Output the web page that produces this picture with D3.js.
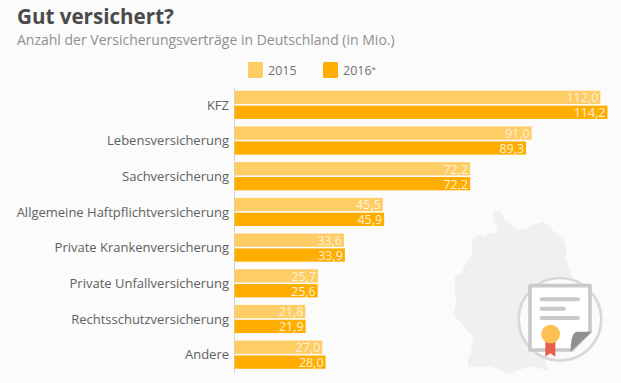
<!DOCTYPE html>
<html>
<head>
<meta charset="utf-8">
<script src="https://cdn.jsdelivr.net/npm/d3@7"></script>
<style>
  html, body { margin: 0; padding: 0; background: #fbfbfb; }
  svg { display: block; font-family: "Open Sans", sans-serif; }
</style>
</head>
<body>
<svg id="chart"></svg>
<script>
var categories = ["KFZ", "Lebensversicherung", "Sachversicherung", "Allgemeine Haftpflichtversicherung",
  "Private Krankenversicherung", "Private Unfallversicherung", "Rechtsschutzversicherung", "Andere"];
var values2015 = [112.0, 91.0, 72.2, 45.5, 33.6, 25.7, 21.8, 27.0];
var values2016 = [114.2, 89.3, 72.2, 45.9, 33.9, 25.6, 21.9, 28.0];
var seriesNames = ["2015", "2016"];
var seriesColors = ["#fecd66", "#ffae00"];

var dimensions = { width: 621, height: 383, left: 234, top: 87.5, bottom: 373 };

var svg = d3.select("#chart")
  .attr("width", dimensions.width)
  .attr("height", dimensions.height);

// background map and icon
var deco = svg.append("g").attr("transform", "translate(420,190) scale(0.3333)");
deco.append("path")
  .attr("d", "M222,60L245,65L252,88L268,100L290,118L315,118L335,106L368,95L388,108L400,122L432,150L440,175L436,205L448,235L460,270L470,340L440,430L395,440L378,470L372,500L385,540L355,535L330,530L295,540L265,552L238,538L210,530L175,532L145,530L143,505L152,490L160,440L138,418L125,400L100,375L108,340L105,310L104,262L125,250L140,215L155,195L155,150L172,135L195,140L205,128L232,130L228,105L220,90Z")
  .attr("fill", "#f0f0f0");
deco.append("circle").attr("cx", 420).attr("cy", 388).attr("r", 124)
  .attr("fill", "#fafafa").attr("stroke", "#d8d8d8").attr("stroke-width", 8);
deco.append("path")
  .attr("d", "M330,287H510V425L455,480H330Z")
  .attr("fill", "#ffffff").attr("stroke", "#c9c9c9").attr("stroke-width", 11).attr("stroke-linejoin", "round");
deco.append("path").attr("d", "M515,425H470Q452,430 452,485Z").attr("fill", "#8f8f8f");
[[365, 474, 328], [365, 432, 356], [365, 474, 384]].forEach(function(l) {
  deco.append("line").attr("x1", l[0]).attr("x2", l[1]).attr("y1", l[2]).attr("y2", l[2])
    .attr("stroke", "#c9c9c9").attr("stroke-width", 12).attr("stroke-linecap", "round");
});
deco.append("path").attr("d", "M376,450H406V500L391,490L376,500Z").attr("fill", "#e8604c");
deco.append("circle").attr("cx", 392).attr("cy", 432).attr("r", 28).attr("fill", "#fcc055");

// title
svg.append("text").attr("x", 17).attr("y", 24).attr("font-size", 20.6).attr("font-weight", 700)
  .attr("fill", "#4a4a4a").text("Gut versichert?");
svg.append("text").attr("x", 17).attr("y", 45).attr("font-size", 14)
  .attr("fill", "#8f8f8f").text("Anzahl der Versicherungsverträge in Deutschland (in Mio.)");

// legend
var legendX = [248, 323];
seriesNames.forEach(function(name, i) {
  svg.append("rect").attr("x", legendX[i]).attr("y", 62).attr("width", 15).attr("height", 16).attr("rx", 1.5)
    .attr("fill", seriesColors[i]);
  var t = svg.append("text").attr("x", legendX[i] + 20).attr("y", 75).attr("font-size", 12.5).attr("fill", "#707070").text(name);
  if (i == 1) t.append("tspan").attr("font-size", 8).attr("dy", -3).text("*");
});

// scales
var xScale = d3.scaleLinear().domain([0, 114.2]).range([dimensions.left, 607.5]);
var yScale = d3.scaleBand().domain(categories).range([dimensions.top, dimensions.bottom]).paddingInner(0).paddingOuter(0);
var barHeight = 13.3;

var yAxisgen = d3.axisLeft(yScale).tickSize(0).tickPadding(5);
var yAxis = svg.append("g").attr("transform", "translate(" + dimensions.left + ",0)").call(yAxisgen);
yAxis.select(".domain").attr("stroke", "#d4d4d4").attr("stroke-width", 1);
yAxis.selectAll("text").attr("font-size", 13).attr("font-family", "'Open Sans', sans-serif").attr("fill", "#606060");

[values2015, values2016].forEach(function(values, s) {
  var groups = svg.append("g").selectAll("g").data(values).enter().append("g");
  var yPos = function(d, i) { return yScale(categories[i]) + yScale.bandwidth() / 2 - 14.6 + s * 14.9; };
  groups.append("rect")
    .attr("class", "bar")
    .attr("x", dimensions.left + 0.5)
    .attr("y", yPos)
    .attr("width", function(d) { return xScale(d) - dimensions.left - 0.5; })
    .attr("height", barHeight)
    .attr("fill", seriesColors[s]);
  groups.append("text")
    .attr("x", function(d) { return xScale(d) - 2; })
    .attr("y", function(d, i) { return yPos(d, i) + 11.5; })
    .attr("text-anchor", "end")
    .attr("font-size", 12.5)
    .attr("fill", "#ffffff")
    .attr("fill-opacity", s == 0 ? 0.75 : 0.85)
    .text(function(d) { return d.toFixed(1).replace(".", ","); });
});
</script>
</body>
</html>
